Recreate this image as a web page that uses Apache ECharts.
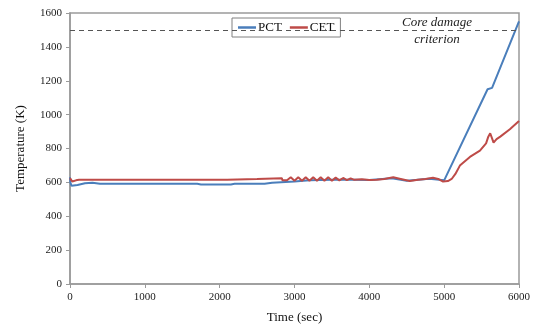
<!DOCTYPE html>
<html>
<head>
<meta charset="utf-8">
<script src="https://cdn.jsdelivr.net/npm/echarts@6/dist/echarts.min.js"></script>
<style>
  html, body { margin: 0; padding: 0; background: #fff; }
  #chart { width: 535px; height: 329px; }
</style>
</head>
<body>
<div id="chart"></div>
<script>
// PCT (peak cladding temperature) and CET (core exit temperature)
const pctTime = [0, 5, 20, 100, 200, 300, 400, 1700, 1750, 2150, 2200, 2600, 2700, 3000, 3200, 3500, 3800, 4000, 4300, 4500, 4800, 5000, 5010, 5580, 5640, 6000];
const pctTemp = [630, 600, 580, 585, 595, 598, 592, 592, 588, 588, 592, 592, 598, 605, 612, 615, 616, 614, 624, 610, 622, 612, 615, 1150, 1158, 1550];

const cetTime = [0, 30, 80, 120, 2100, 2110, 2500, 2510, 2830, 2840, 2900,
  2950, 3000, 3050, 3100, 3150, 3200, 3250, 3300, 3350, 3400, 3450, 3500, 3550, 3600, 3650, 3700, 3750, 3800,
  3900, 4000, 4100, 4200, 4320, 4420, 4540, 4650, 4750, 4850, 4920, 4985, 5050, 5100, 5150, 5210, 5344, 5478,
  5560, 5590, 5615, 5640, 5660, 5700, 5750, 5878, 6000];
const cetTemp = [625, 605, 612, 615, 615, 620, 620, 625, 625, 612, 612,
  630, 610, 630, 610, 630, 610, 630, 610, 630, 610, 630, 610, 628, 612, 626, 613, 624, 615,
  618, 614, 616, 620, 630, 620, 608, 615, 620, 627, 620, 605, 608, 620, 650, 699, 750, 787,
  830, 870, 890, 860, 835, 855, 870, 914, 963];

const criterion = 1500;
const yTicks = { min: 0, max: 1600, step: 200 };
const xTicks = { min: 0, max: 6000, step: 1000 };

const serif = '"Liberation Serif", "DejaVu Serif", serif';
const chart = echarts.init(document.getElementById('chart'));

chart.setOption({
  animation: false,
  textStyle: { fontFamily: serif },
  grid: {
    left: 70, right: 16, top: 13, bottom: 43,
    show: true, borderColor: '#9a9a9a', borderWidth: 1.5
  },
  legend: {
    left: 232, top: 18,
    data: ['PCT', 'CET'],
    icon: 'rect',
    itemWidth: 18, itemHeight: 2.5,
    itemGap: 8,
    padding: [3, 6, 3, 6],
    backgroundColor: '#fff',
    borderColor: '#808080', borderWidth: 1,
    textStyle: { fontFamily: serif, fontSize: 13, color: '#111', padding: [0, 0, 0, -3] }
  },
  xAxis: {
    type: 'value',
    min: xTicks.min, max: xTicks.max, interval: xTicks.step,
    name: 'Time (sec)', nameLocation: 'middle', nameGap: 27,
    nameTextStyle: { fontFamily: serif, fontSize: 13, color: '#111' },
    axisLine: { lineStyle: { color: '#9a9a9a', width: 1.5 } },
    axisTick: { show: true, length: 4, lineStyle: { color: '#9a9a9a' } },
    axisLabel: { fontFamily: serif, fontSize: 11, color: '#222', margin: 8, formatter: v => String(v) },
    splitLine: { show: false }
  },
  yAxis: {
    type: 'value',
    min: yTicks.min, max: yTicks.max, interval: yTicks.step,
    name: 'Temperature (K)', nameLocation: 'middle', nameGap: 43,
    nameTextStyle: { fontFamily: serif, fontSize: 13, color: '#111' },
    axisLine: { show: true, lineStyle: { color: '#9a9a9a', width: 1.5 } },
    axisTick: { show: true, length: 4, lineStyle: { color: '#9a9a9a' } },
    axisLabel: { fontFamily: serif, fontSize: 11, color: '#222', margin: 8, formatter: v => String(v) },
    splitLine: { show: false }
  },
  series: [
    {
      name: 'PCT', type: 'line', showSymbol: false, symbol: 'none',
      data: pctTime.map((t, i) => [t, pctTemp[i]]),
      lineStyle: { color: '#4a7ebb', width: 2 },
      itemStyle: { color: '#4a7ebb' },
      markLine: {
        silent: true, symbol: 'none',
        label: { show: false },
        lineStyle: { color: '#555', type: [5, 4], width: 1 },
        data: [{ yAxis: criterion }]
      }
    },
    {
      name: 'CET', type: 'line', showSymbol: false, symbol: 'none',
      data: cetTime.map((t, i) => [t, cetTemp[i]]),
      lineStyle: { color: '#be4b48', width: 2 },
      itemStyle: { color: '#be4b48' }
    }
  ],
  graphic: [
    {
      type: 'text', x: 437, y: 16,
      style: { text: 'Core damage', font: 'italic 13px ' + serif, fill: '#222', align: 'center', verticalAlign: 'top' }
    },
    {
      type: 'text', x: 437, y: 33,
      style: { text: 'criterion', font: 'italic 13px ' + serif, fill: '#222', align: 'center', verticalAlign: 'top' }
    }
  ]
});
</script>
</body>
</html>
